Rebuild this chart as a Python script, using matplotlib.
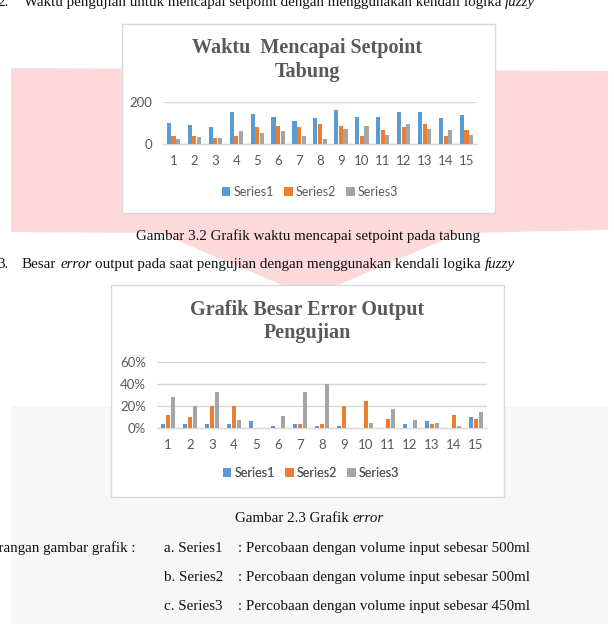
import matplotlib
matplotlib.use("Agg")
import matplotlib.pyplot as plt
import numpy as np
from matplotlib.patches import Polygon, Rectangle
from matplotlib.ticker import FuncFormatter

# ---------------- data ----------------
categories = [str(i) for i in range(1, 16)]
series_names = ["Series1", "Series2", "Series3"]

time_s1 = [98, 90, 79, 150, 142, 128, 110, 121, 161, 128, 128, 151, 150, 121, 135]
time_s2 = [38, 39, 28, 39, 82, 85, 79, 94, 85, 36, 68, 79, 96, 39, 65]
time_s3 = [25, 33, 28, 61, 52, 61, 38, 22, 72, 85, 43, 93, 72, 68, 44]

err_s1 = [0.04, 0.04, 0.04, 0.04, 0.06, 0.02, 0.04, 0.02, 0.02, 0.0, 0.0, 0.04, 0.06, 0.0, 0.10]
err_s2 = [0.12, 0.10, 0.20, 0.20, 0.0, 0.0, 0.04, 0.04, 0.20, 0.245, 0.08, 0.0, 0.04, 0.12, 0.08]
err_s3 = [0.285, 0.20, 0.33, 0.07, 0.0, 0.11, 0.33, 0.40, 0.0, 0.05, 0.17, 0.07, 0.05, 0.02, 0.15]

title1 = "Waktu  Mencapai Setpoint\nTabung"
title2 = "Grafik Besar Error Output\nPengujian"
yticks1 = [0, 200]
yticks2 = [0, 0.2, 0.4, 0.6]

colors = ["#5B9BD5", "#ED7D31", "#A5A5A5"]
GRAY_TXT = "#595959"
GRID = "#d9d9d9"
SERIF = "Liberation Serif"
SANS = "Lato"
BODY = 10.8

W, H = 614, 624
fig = plt.figure(figsize=(W / 100, H / 100), dpi=100)
fig.patch.set_facecolor("white")

bg = fig.add_axes([0, 0, 1, 1], zorder=0)
bg.set_xlim(0, W)
bg.set_ylim(H, 0)
bg.axis("off")

# background decorations
bg.add_patch(Rectangle((11, 406), 597, 230, facecolor="#f7f7f7", edgecolor="none"))
bg.add_patch(Polygon([(11, 68), (608, 71), (608, 230), (460, 233), (310, 297),
                      (160, 233), (11, 232)], closed=True,
                     facecolor="#fdd9dc", edgecolor="none"))
# chart boxes
bg.add_patch(Rectangle((122, 24), 373, 189, facecolor="white", edgecolor=GRID, lw=1.0))
bg.add_patch(Rectangle((111, 285), 393, 212, facecolor="white", edgecolor=GRID, lw=1.0))

renderer = fig.canvas.get_renderer()


def rich(x, y, parts, size=BODY):
    """parts: list of (text, style, add_space_after)"""
    space = 0.25 * size * 100 / 72
    for s, style, sp in parts:
        t = bg.text(x, y, s, fontsize=size, family=SERIF, style=style,
                    va="baseline", ha="left", color="#111111")
        bb = t.get_window_extent(renderer)
        x += bb.width + (space if sp else 0)


# body text
bg.text(-3, 6, "2.", fontsize=BODY, family=SERIF, va="baseline", color="#111111")
rich(24, 6, [("Waktu pengujian untuk mencapai setpoint dengan menggunakan kendali logika", "normal", True),
             ("fuzzy", "italic", False)])
bg.text(308, 240, "Gambar 3.2 Grafik waktu mencapai setpoint pada tabung", fontsize=BODY,
        family=SERIF, ha="center", va="baseline", color="#111111")
bg.text(-3, 268, "3.", fontsize=BODY, family=SERIF, va="baseline", color="#111111")
rich(22, 268, [("Besar", "normal", True), ("error", "italic", True),
               ("output pada saat pengujian dengan menggunakan kendali logika", "normal", True),
               ("fuzzy", "italic", False)])
rich(235, 522, [("Gambar 2.3 Grafik", "normal", True), ("error", "italic", False)])

bg.text(135, 552, "Keterangan gambar grafik :", fontsize=BODY, family=SERIF, ha="right",
        va="baseline", color="#111111")
desc_labels = ["a. Series1", "b. Series2", "c. Series3"]
desc_texts = [": Percobaan dengan volume input sebesar 500ml",
              ": Percobaan dengan volume input sebesar 500ml",
              ": Percobaan dengan volume input sebesar 450ml"]
for i, (lab, txt) in enumerate(zip(desc_labels, desc_texts)):
    yy = 552 + i * 29
    bg.text(164, yy, lab, fontsize=BODY, family=SERIF, va="baseline", color="#111111")
    bg.text(238, yy, txt, fontsize=BODY, family=SERIF, va="baseline", color="#111111")

# chart titles
t1 = title1.split("\n")
bg.text(307, 48, t1[0], fontsize=14.5, family=SERIF, weight="bold", ha="center", va="center", color=GRAY_TXT)
bg.text(307, 72, t1[1], fontsize=14.5, family=SERIF, weight="bold", ha="center", va="center", color=GRAY_TXT)
t2 = title2.split("\n")
bg.text(307, 310, t2[0], fontsize=14.5, family=SERIF, weight="bold", ha="center", va="center", color=GRAY_TXT)
bg.text(307, 333, t2[1], fontsize=14.5, family=SERIF, weight="bold", ha="center", va="center", color=GRAY_TXT)


def make_axes(left, right, top, bottom):
    return fig.add_axes([left / W, 1 - bottom / H, (right - left) / W, (bottom - top) / H], zorder=2)


def style_axes(ax, yticks, ymax, fmt=None):
    ax.set_facecolor("none")
    for s in ["top", "right", "left"]:
        ax.spines[s].set_visible(False)
    ax.spines["bottom"].set_color(GRID)
    ax.spines["bottom"].set_linewidth(1.0)
    ax.set_ylim(0, ymax)
    ax.set_yticks(yticks)
    if fmt:
        ax.yaxis.set_major_formatter(FuncFormatter(fmt))
    ax.yaxis.grid(True, color=GRID, lw=1.0, zorder=0)
    ax.set_axisbelow(True)
    ax.tick_params(axis="both", length=0, labelsize=9.5, labelcolor=GRAY_TXT, pad=8)
    for lab in ax.get_xticklabels() + ax.get_yticklabels():
        lab.set_family(SANS)
    ax.set_xlim(-0.5, len(categories) - 0.5)


x = np.arange(len(categories))
bw = 0.2
offs = [-0.22, 0.0, 0.22]

ax1 = make_axes(163, 477, 101.7, 144)
for data, c, o, n in zip([time_s1, time_s2, time_s3], colors, offs, series_names):
    ax1.bar(x + o, data, width=bw, color=c, label=n, zorder=3)
ax1.set_xticks(x)
ax1.set_xticklabels(categories)
style_axes(ax1, yticks1, 200)

ax2 = make_axes(157, 487, 362, 428)
for data, c, o, n in zip([err_s1, err_s2, err_s3], colors, offs, series_names):
    ax2.bar(x + o, data, width=bw, color=c, label=n, zorder=3)
ax2.set_xticks(x)
ax2.set_xticklabels(categories)
style_axes(ax2, yticks2, 0.6, fmt=lambda v, p: f"{v * 100:.0f}%")

for ax, (cx, cy) in [(ax1, (310, 192)), (ax2, (311, 473))]:
    h, l = ax.get_legend_handles_labels()
    leg = bg.legend(h, l, loc="center", bbox_to_anchor=(cx, cy), bbox_transform=bg.transData,
                    ncol=3, frameon=False, handlelength=0.7, handleheight=0.7,
                    handletextpad=0.25, columnspacing=0.8, prop={"family": SANS, "size": 9})
    for t in leg.get_texts():
        t.set_color(GRAY_TXT)
    bg.add_artist(leg)

fig.savefig("out.png", dpi=100)
